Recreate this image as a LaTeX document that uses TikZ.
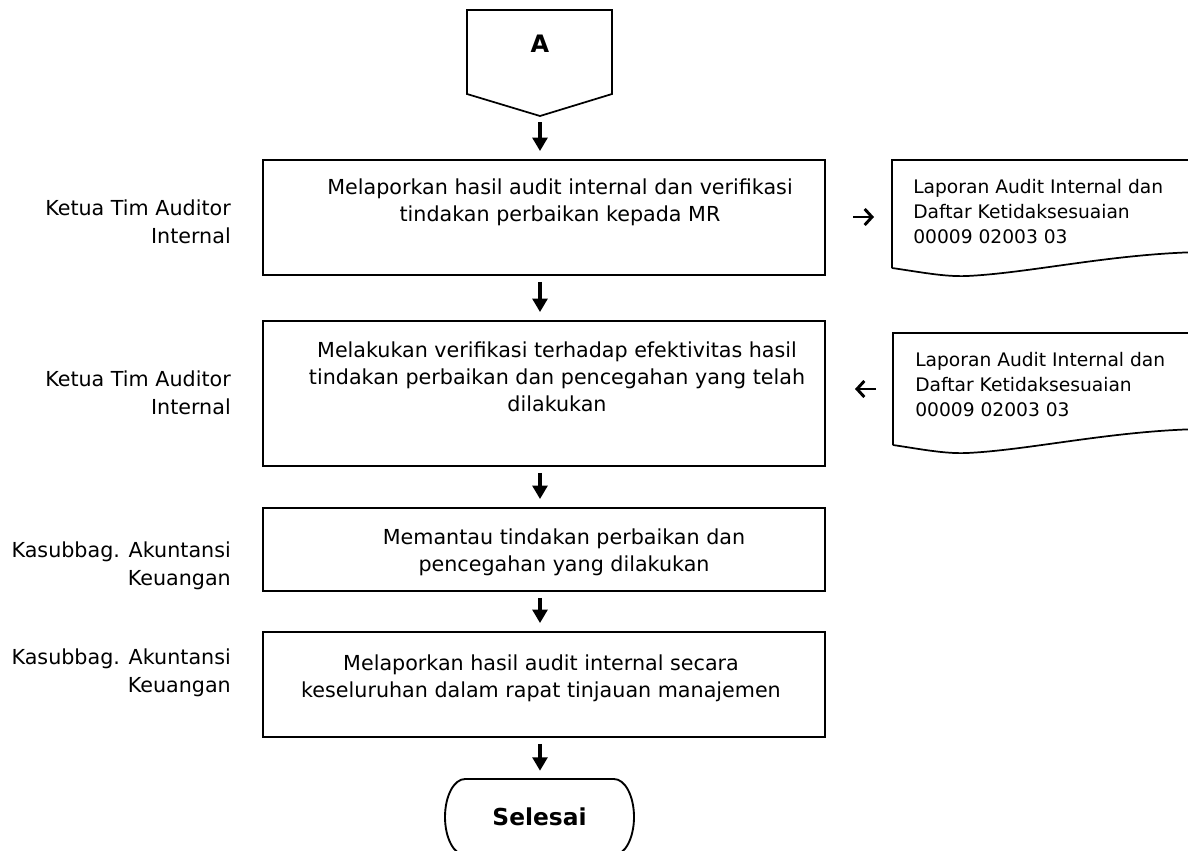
\documentclass[tikz,border=0pt]{standalone}
\usepackage{fontspec}
\setmainfont{DejaVu Sans}
\usetikzlibrary{arrows.meta}
\begin{document}
\begin{tikzpicture}[x=0.75pt,y=-0.75pt,
  box/.style={draw, line width=1.4pt, minimum width=421.5pt, inner sep=0pt},
  txt/.style={align=center, font=\fontsize{15.5}{20.25}\selectfont, inner sep=0pt},
  lbl/.style={align=right, anchor=east, font=\fontsize{15.5}{21}\selectfont, inner sep=0pt},
  doctxt/.style={align=left, anchor=west, font=\fontsize{14}{18.75}\selectfont, inner sep=0pt},
  shp/.style={line width=1.3pt},
  flow/.style={line width=2.4pt, -{Triangle[width=11pt,length=10pt]}, shorten <=4.5pt, shorten >=6pt},
  side/.style={line width=2.2pt, -{Straight Barb[length=5.5pt,width=12pt,line width=2.2pt]}},
  term/.style={minimum width=140.25pt, minimum height=57pt, inner sep=0pt, font=\bfseries\fontsize{17.5}{17.5}\selectfont}
]
\useasboundingbox (0,0) rectangle (1188,850);
\fill[white] (0,0) rectangle (1188,850);

% off-page connector
\draw[shp] (467,10) -- (612,10) -- (612,94) -- (540,116) -- (467,94) -- cycle;
\coordinate (Atip) at (540,116);
\node[font=\bfseries\fontsize{18}{18}\selectfont] (A) at (540,44) {A};

% process boxes
\node[box, minimum height=86.25pt] (b1) at (544,217.5) {};
\node[box, minimum height=108.75pt] (b2) at (544,393.5) {};
\node[box, minimum height=62.25pt] (b3) at (544,549.5) {};
\node[box, minimum height=78.75pt] (b4) at (544,684.5) {};

% terminal
\node[term] (end) at (539.5,817) {Selesai};
\draw[line width=1.4pt] (465,779) -- (614,779)
  arc[start angle=90, end angle=-90, x radius=15pt, y radius=28.5pt]
  -- (465,855)
  arc[start angle=270, end angle=90, x radius=15pt, y radius=28.5pt] -- cycle;

% box texts
\node[txt] (t1) at (560,202) {Melaporkan hasil audit internal dan verifikasi\\tindakan perbaikan kepada MR};
\node[txt] (t2) at (557,377) {Melakukan verifikasi terhadap efektivitas hasil\\tindakan perbaikan dan pencegahan yang telah\\dilakukan};
\node[txt] (t3) at (564,552) {Memantau tindakan perbaikan dan\\pencegahan yang dilakukan};
\node[txt] (t4) at (541,678) {Melaporkan hasil audit internal secara\\keseluruhan dalam rapat tinjauan manajemen};

% left labels
\node[lbl] (l1) at (231,222) {Ketua Tim Auditor\\Internal};
\node[lbl] (l2) at (231,393) {Ketua Tim Auditor\\Internal};
\node[lbl] (l3) at (231,566) {Kasubbag. Akuntansi\\Keuangan};
\node[lbl] (l4) at (231,673) {Kasubbag. Akuntansi\\Keuangan};

% documents
\draw[shp] (892,268) -- (892,160) -- (1200,160) -- (1200,252)
  .. controls (1110,254) and (1030,273) .. (967,276)
  .. controls (945,277) and (920,272) .. (892,268);
\node[doctxt] (d1) at (913,212) {Laporan Audit Internal dan\\Daftar Ketidaksesuaian\\00009 02003 03};
\draw[shp] (893,445) -- (893,333) -- (1200,333) -- (1200,429)
  .. controls (1110,431) and (1030,450) .. (967,453)
  .. controls (945,454) and (920,449) .. (893,445);
\node[doctxt] (d2) at (915,385) {Laporan Audit Internal dan\\Daftar Ketidaksesuaian\\00009 02003 03};

% flow arrows
\draw[flow] (Atip) -- (b1.north -| Atip);
\draw[flow] (b1.south -| Atip) -- (b2.north -| Atip);
\draw[flow] (b2.south -| Atip) -- (b3.north -| Atip);
\draw[flow] (b3.south -| Atip) -- (b4.north -| Atip);
\draw[flow] (b4.south -| Atip) -- (end.north -| Atip);

% side arrows
\coordinate (r1a) at (853,217);
\coordinate (r1b) at (874,217);
\draw[side] (r1a) -- (r1b);
\coordinate (r2a) at (876,389);
\coordinate (r2b) at (855,389);
\draw[side] (r2a) -- (r2b);
\end{tikzpicture}
\end{document}
